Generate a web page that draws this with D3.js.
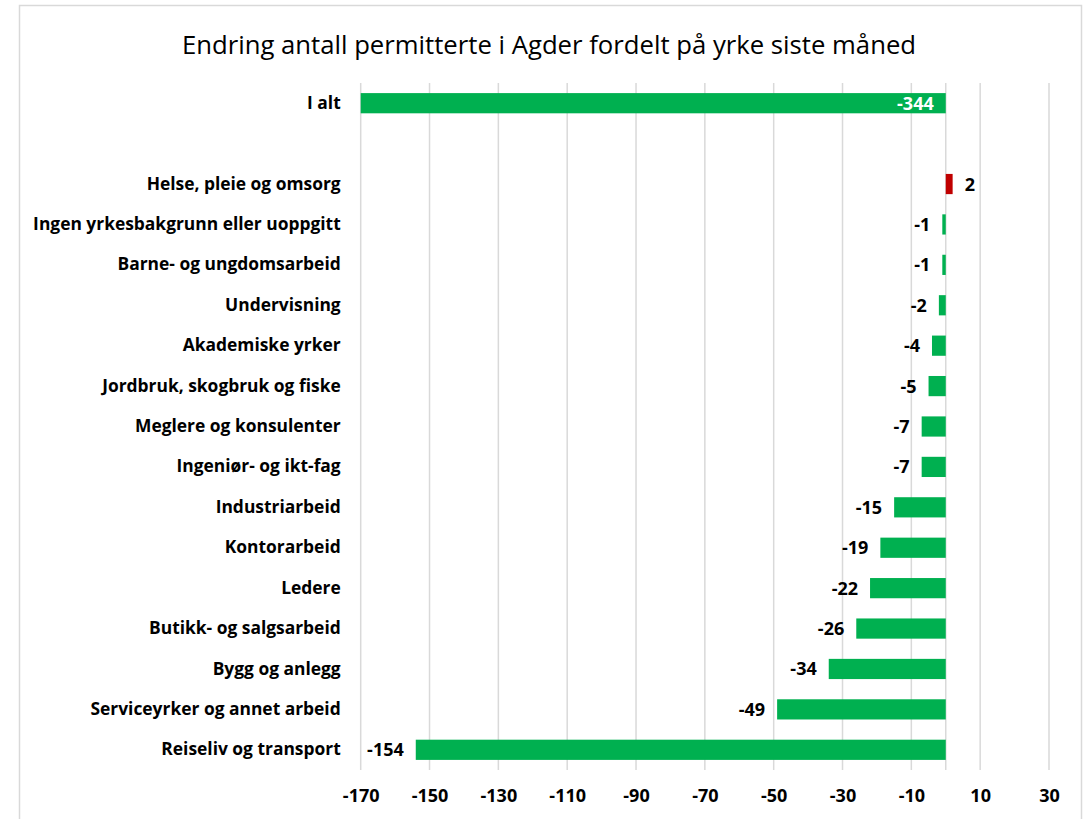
<!DOCTYPE html>
<html>
<head>
<meta charset="utf-8">
<script src="https://cdn.jsdelivr.net/npm/d3@7"></script>
<style>
  body { margin: 0; background: #fff; }
  svg { display: block; font-family: "Open Sans", sans-serif; }
</style>
</head>
<body>
<script>
// chart data
var categories = [
  "I alt",
  " ",
  "Helse, pleie og omsorg",
  "Ingen yrkesbakgrunn eller uoppgitt",
  "Barne- og ungdomsarbeid",
  "Undervisning",
  "Akademiske yrker",
  "Jordbruk, skogbruk og fiske",
  "Meglere og konsulenter",
  "Ingeniør- og ikt-fag",
  "Industriarbeid",
  "Kontorarbeid",
  "Ledere",
  "Butikk- og salgsarbeid",
  "Bygg og anlegg",
  "Serviceyrker og annet arbeid",
  "Reiseliv og transport"
];
var values = [-344, null, 2, -1, -1, -2, -4, -5, -7, -7, -15, -19, -22, -26, -34, -49, -154];
var xTicks = [-170, -150, -130, -110, -90, -70, -50, -30, -10, 10, 30];
var title = "Endring antall permitterte i Agder fordelt på yrke siste måned";

var svgWidth = 1089;
var svgHeight = 819;

// plot area
var margin = { top: 83, right: 40, bottom: 49, left: 360.7 };
var chartWidth = 1049 - margin.left;
var chartHeight = svgHeight - margin.top - margin.bottom;

var svg = d3.select("body")
  .append("svg")
  .attr("width", svgWidth)
  .attr("height", svgHeight);

// outer chart frame
svg.append("rect")
  .attr("x", 19.5)
  .attr("y", 5.5)
  .attr("width", 1062)
  .attr("height", 840)
  .attr("fill", "#fff")
  .attr("stroke", "#d9d9d9")
  .attr("stroke-width", 1.5);

svg.append("text")
  .attr("x", 549)
  .attr("y", 54)
  .attr("text-anchor", "middle")
  .attr("font-size", 25.7)
  .attr("fill", "#000")
  .text(title);

var g = svg.append("g")
  .attr("transform", `translate(${margin.left}, ${margin.top})`);

var data = categories.map(function(c, i) {
  return { name: c, value: values[i] };
});

var xScale = d3.scaleLinear()
  .domain([xTicks[0], xTicks[xTicks.length - 1]])
  .range([0, chartWidth]);

var yScale = d3.scaleBand()
  .domain(categories)
  .range([0, chartHeight])
  .paddingInner(0.5)
  .paddingOuter(0.25);

// vertical gridlines
g.selectAll(".grid")
  .data(xTicks)
  .enter()
  .append("line")
  .attr("x1", d => xScale(d))
  .attr("x2", d => xScale(d))
  .attr("y1", 0)
  .attr("y2", chartHeight)
  .attr("stroke", "#d9d9d9")
  .attr("stroke-width", 1.5);

// category axis at zero
g.append("line")
  .attr("x1", xScale(0))
  .attr("x2", xScale(0))
  .attr("y1", 0)
  .attr("y2", chartHeight)
  .attr("stroke", "#d9d9d9")
  .attr("stroke-width", 1.5);

var xMin = xScale.domain()[0];
var bars = data.filter(d => d.value !== null);

g.selectAll(".bar")
  .data(bars)
  .enter()
  .append("rect")
  .attr("x", d => xScale(Math.min(0, Math.max(d.value, xMin))))
  .attr("width", d => Math.abs(xScale(Math.max(d.value, xMin)) - xScale(0)))
  .attr("y", d => yScale(d.name))
  .attr("height", yScale.bandwidth())
  .attr("fill", d => d.value > 0 ? "#c00000" : "#00b050");

// value labels
g.selectAll(".vlabel")
  .data(bars)
  .enter()
  .append("text")
  .attr("x", function(d) {
    if (d.value < xMin) return xScale(0) - 12;
    return d.value > 0 ? xScale(d.value) + 12 : xScale(d.value) - 12;
  })
  .attr("y", d => yScale(d.name) + yScale.bandwidth() / 2)
  .attr("dy", "0.36em")
  .attr("text-anchor", d => d.value > 0 ? "start" : "end")
  .attr("font-size", 18)
  .attr("font-weight", "bold")
  .attr("fill", d => d.value < xMin ? "#fff" : "#000")
  .text(d => String(d.value));

// category labels
var leftAxis = d3.axisLeft(yScale).tickSize(0).tickPadding(20);
var yAxis = g.append("g").call(leftAxis);
yAxis.select(".domain").remove();
yAxis.selectAll("text")
  .attr("font-family", "'Open Sans', sans-serif")
  .attr("font-size", 17.4)
  .attr("font-weight", "bold")
  .attr("fill", "#000");

// value axis labels
var bottomAxis = d3.axisBottom(xScale)
  .tickValues(xTicks)
  .tickFormat(d => String(d))
  .tickSize(0)
  .tickPadding(19);
var xAxis = g.append("g")
  .attr("transform", `translate(0, ${chartHeight})`)
  .call(bottomAxis);
xAxis.select(".domain").remove();
xAxis.selectAll("text")
  .attr("font-family", "'Open Sans', sans-serif")
  .attr("font-size", 18)
  .attr("font-weight", "bold")
  .attr("fill", "#000");
</script>
</body>
</html>
